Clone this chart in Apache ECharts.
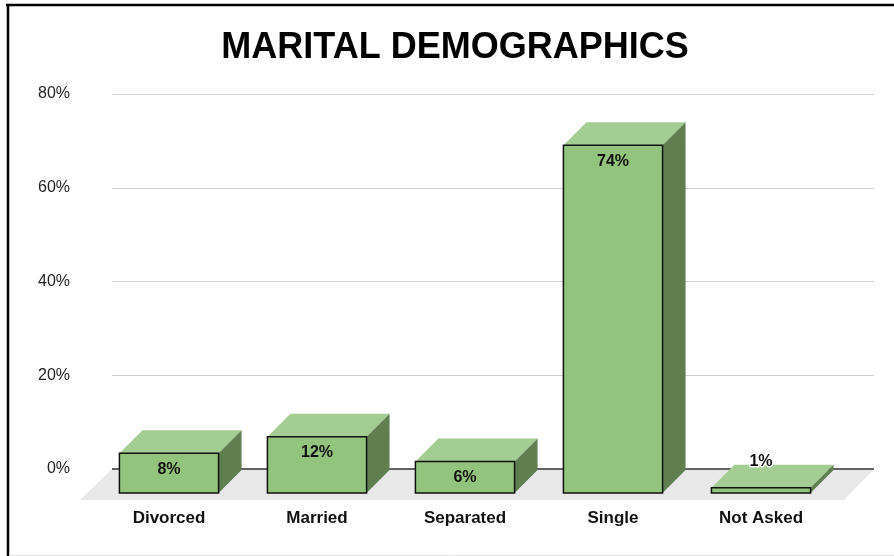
<!DOCTYPE html>
<html>
<head>
<meta charset="utf-8">
<script src="https://cdn.jsdelivr.net/npm/echarts@6/dist/echarts.min.js"></script>
<style>
html,body{margin:0;padding:0;background:#fff;}
#c{width:894px;height:556px;}
</style>
</head>
<body>
<div id="c"></div>
<script>
const titleText = 'MARITAL DEMOGRAPHICS';
const categories = ['Divorced', 'Married', 'Separated', 'Single', 'Not Asked'];
const values = [8.5, 12, 6.7, 74.2, 1.1];
const valueLabels = ['8%', '12%', '6%', '74%', '1%'];
const yMin = 0, yMax = 80, yStep = 20;

const FONT = '"Liberation Sans", Arial, sans-serif';
const DX = 23, DY = -23;

const chart = echarts.init(document.getElementById('c'), null, {renderer: 'canvas'});

const option = {
  animation: false,
  backgroundColor: '#fff',
  graphic: [
    {type: 'line', shape: {x1: 6, y1: 5, x2: 894, y2: 5}, style: {stroke: '#000', lineWidth: 2.5}, z: 10},
    {type: 'line', shape: {x1: 8, y1: 4, x2: 8, y2: 556}, style: {stroke: '#000', lineWidth: 2.5}, z: 10},
    {type: 'line', shape: {x1: 9, y1: 555.5, x2: 894, y2: 555.5}, style: {stroke: '#e4e4e4', lineWidth: 1}, z: 10},
    {type: 'text', x: 455, y: 48, style: {text: titleText, font: 'bold 36px ' + FONT, fill: '#000', textAlign: 'center', textVerticalAlign: 'middle'}, z: 10}
  ],
  grid: [
    {left: 112, right: 20, top: 94, bottom: 87},
    {left: 95, right: 59, top: 118, bottom: 63}
  ],
  xAxis: [
    {gridIndex: 0, type: 'value', min: 0, max: 1, show: false},
    {gridIndex: 1, type: 'category', data: categories,
      axisLine: {show: false}, axisTick: {show: false},
      axisLabel: {margin: 17, fontSize: 17, fontWeight: 'bold', color: '#111', fontFamily: FONT}}
  ],
  yAxis: [
    {gridIndex: 0, type: 'value', min: yMin, max: yMax, interval: yStep,
      axisLine: {show: false}, axisTick: {show: false},
      axisLabel: {formatter: '{value}%', margin: 42, fontSize: 16, color: '#222', fontFamily: FONT},
      splitLine: {lineStyle: {color: '#d0d0d0', width: 1.2}}},
    {gridIndex: 1, type: 'value', min: yMin, max: yMax, show: false}
  ],
  series: [
    {
      type: 'custom', xAxisIndex: 0, yAxisIndex: 0, z: 1,
      data: [[0, 0]],
      renderItem: function (params, api) {
        const cs = params.coordSys;
        const y0 = api.coord([0, 0])[1];
        const x1 = cs.x, x2 = cs.x + cs.width;
        return {
          type: 'group',
          children: [
            {type: 'polygon', shape: {points: [[x1, y0], [x2, y0], [x2 - 30, y0 + 31], [x1 - 32, y0 + 31]]},
              style: {fill: '#e8e8e8'}},
            {type: 'line', shape: {x1: x1, y1: y0, x2: x2, y2: y0}, style: {stroke: '#333', lineWidth: 1.5}}
          ]
        };
      }
    },
    {
      type: 'custom', xAxisIndex: 1, yAxisIndex: 1, z: 2,
      data: values.map((v, i) => [i, v]),
      renderItem: function (params, api) {
        const i = api.value(0);
        const topP = api.coord([i, api.value(1)]);
        const baseP = api.coord([i, 0]);
        const w = api.size([1, 0])[0] * 0.67;
        const left = topP[0] - w / 2;
        const top = topP[1];
        const bottom = baseP[1];
        const h = bottom - top;
        const small = h < 20;
        const lx = topP[0];
        const ly = small ? top + DY - 3 : top + 16;
        return {
          type: 'group',
          children: [
            {type: 'polygon', shape: {points: [[left, top], [left + DX, top + DY], [left + w + DX, top + DY], [left + w, top]]},
              style: {fill: '#a4cd93'}},
            {type: 'polygon', shape: {points: [[left + w, top], [left + w + DX, top + DY], [left + w + DX, bottom + DY], [left + w, bottom]]},
              style: {fill: '#5f7f50'}},
            {type: 'rect', shape: {x: left, y: top, width: w, height: h},
              style: {fill: '#93c47d', stroke: '#111', lineWidth: 1.5}},
            {type: 'text', x: lx, y: ly,
              style: {text: valueLabels[params.dataIndex], font: 'bold 16px ' + FONT, fill: '#111',
                textAlign: 'center', textVerticalAlign: 'middle', stroke: '#fff', lineWidth: small ? 3 : 0}}
          ]
        };
      }
    }
  ]
};
chart.setOption(option);
</script>
</body>
</html>
